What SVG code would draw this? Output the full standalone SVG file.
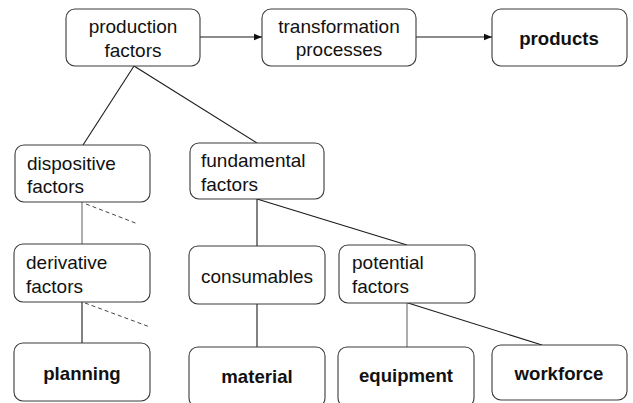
<svg xmlns="http://www.w3.org/2000/svg" width="633" height="403" viewBox="0 0 633 403">
  <style>
    .box { fill: #ffffff; stroke: #3a3a3a; stroke-width: 1.1; }
    .t { font-family: "Liberation Sans", Arial, sans-serif; font-size: 19px; fill: #111111; }
    .c { text-anchor: middle; }
    .b { font-weight: bold; font-size: 18.6px; }
    .ln { stroke: #1a1a1a; stroke-width: 1.1; fill: none; }
    .lg { stroke: #6a6a6a; stroke-width: 1.1; fill: none; }
    .dash { stroke: #444444; stroke-width: 1; stroke-dasharray: 4 3; fill: none; }
  </style>
  <defs>
    <marker id="arrow" viewBox="0 0 8 8" refX="8" refY="4" markerWidth="8" markerHeight="8" markerUnits="userSpaceOnUse" orient="auto">
      <path d="M0,0.8 L8,4 L0,7.2 Z" fill="#111111"/>
    </marker>
  </defs>
  <rect width="633" height="403" fill="#ffffff"/>

  <g id="connectors">
    <line class="ln" x1="200" y1="37" x2="262" y2="37" marker-end="url(#arrow)"/>
    <line class="ln" x1="416" y1="37" x2="492" y2="37" marker-end="url(#arrow)"/>
    <line class="ln" x1="134" y1="66" x2="83" y2="145"/>
    <line class="ln" x1="134" y1="66" x2="257" y2="143"/>
    <line class="lg" x1="82" y1="202" x2="82" y2="244"/>
    <line class="dash" x1="86" y1="204" x2="138" y2="224"/>
    <line class="ln" x1="82" y1="302" x2="82" y2="343"/>
    <line class="dash" x1="85" y1="303" x2="150" y2="327"/>
    <line class="ln" x1="257" y1="199" x2="257" y2="246"/>
    <line class="ln" x1="257" y1="199" x2="407" y2="245"/>
    <line class="ln" x1="257" y1="304" x2="257" y2="347"/>
    <line class="lg" x1="407" y1="303" x2="407" y2="347"/>
    <line class="ln" x1="408" y1="303" x2="542" y2="345"/>
  </g>

  <g id="production-factors">
    <rect class="box" x="66" y="9" width="134" height="57" rx="9"/>
    <text class="t c" x="133" y="33">production</text>
    <text class="t c" x="133" y="57">factors</text>
  </g>
  <g id="transformation-processes">
    <rect class="box" x="262" y="9" width="154" height="57" rx="9"/>
    <text class="t c" x="339" y="33">transformation</text>
    <text class="t c" x="339" y="56">processes</text>
  </g>
  <g id="products">
    <rect class="box" x="492" y="9" width="135" height="57" rx="9"/>
    <text class="t c b" x="559" y="45">products</text>
  </g>

  <g id="dispositive-factors">
    <rect class="box" x="15" y="145" width="135" height="57" rx="9"/>
    <text class="t" x="27" y="170">dispositive</text>
    <text class="t" x="27" y="193">factors</text>
  </g>
  <g id="fundamental-factors">
    <rect class="box" x="190" y="143" width="134" height="56" rx="9"/>
    <text class="t" x="201" y="167">fundamental</text>
    <text class="t" x="201" y="191">factors</text>
  </g>

  <g id="derivative-factors">
    <rect class="box" x="14" y="244" width="136" height="58" rx="9"/>
    <text class="t" x="26" y="269">derivative</text>
    <text class="t" x="26" y="293">factors</text>
  </g>
  <g id="consumables">
    <rect class="box" x="189" y="246" width="136" height="58" rx="9"/>
    <text class="t c" x="257" y="283">consumables</text>
  </g>
  <g id="potential-factors">
    <rect class="box" x="339" y="245" width="136" height="58" rx="9"/>
    <text class="t" x="352" y="269">potential</text>
    <text class="t" x="352" y="293">factors</text>
  </g>

  <g id="planning">
    <rect class="box" x="14" y="343" width="136" height="58" rx="9"/>
    <text class="t c b" x="82" y="380">planning</text>
  </g>
  <g id="material">
    <rect class="box" x="189" y="347" width="136" height="60" rx="9"/>
    <text class="t c b" x="257" y="383">material</text>
  </g>
  <g id="equipment">
    <rect class="box" x="338" y="347" width="136" height="60" rx="9"/>
    <text class="t c b" x="406" y="382">equipment</text>
  </g>
  <g id="workforce">
    <rect class="box" x="492" y="345" width="135" height="55" rx="9"/>
    <text class="t c b" x="559" y="380">workforce</text>
  </g>
</svg>
